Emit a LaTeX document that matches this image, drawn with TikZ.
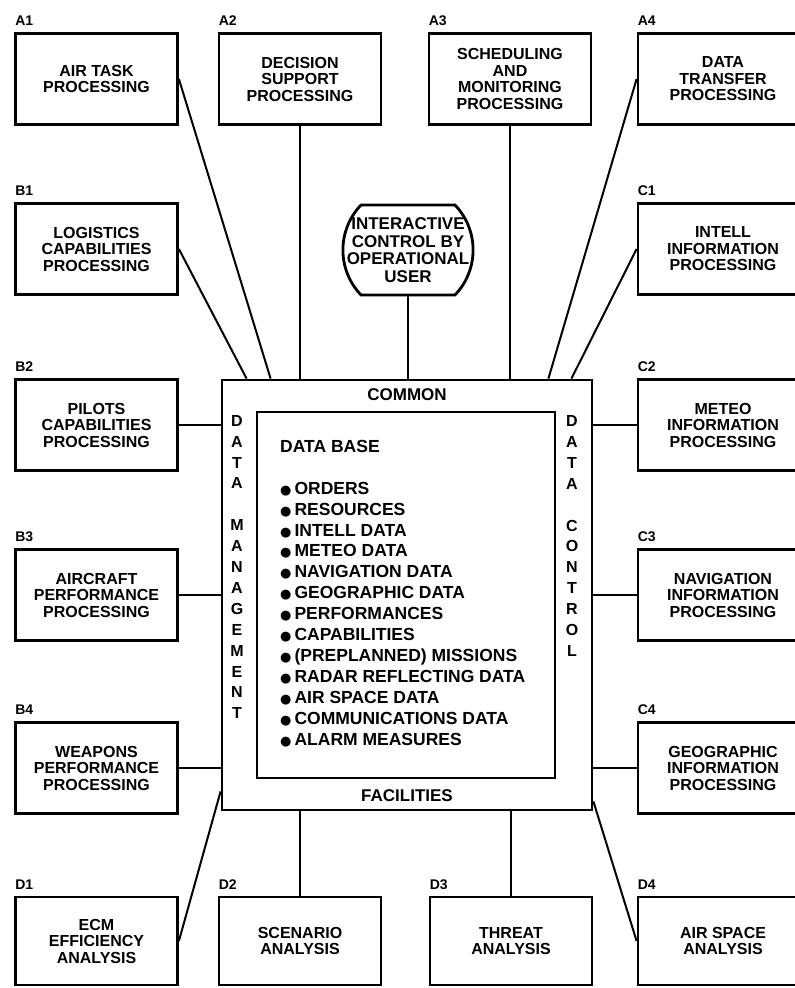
\documentclass[tikz,border=0pt]{standalone}
\usepackage{fontspec}
\setmainfont{Liberation Sans}
\newfontfamily\symfont{DejaVu Sans}
\usetikzlibrary{positioning,calc}

\newcommand{\bul}{{\symfont\fontsize{13}{13}\selectfont ●}\hspace{3pt}}

\begin{document}
\begin{tikzpicture}[
    x=1pt, y=1pt,
    proc/.style={rectangle, draw, line width=2.8pt, minimum width=162, minimum height=91, align=center, inner sep=2pt, font=\fontsize{16}{16.5}\selectfont\bfseries},
    wide/.style={minimum width=170},
    tag/.style={inner sep=0pt, font=\fontsize{14}{14}\selectfont\bfseries},
    dbframe/.style={rectangle, draw, line width=2.8pt},
    userline/.style={draw, line width=2.8pt},
    link/.style={line width=2pt},
    vtext/.style={align=center, inner sep=0pt, font=\fontsize{16}{20.9}\selectfont\bfseries},
    hdr/.style={inner sep=0pt, font=\fontsize{17}{17}\selectfont\bfseries}
]
\useasboundingbox (0,0) rectangle (795,-988);

% processing boxes
\node[proc] (a1) at (96.5,-79) {AIR TASK\\PROCESSING};
\node[proc] (a2) at (300,-79) {DECISION\\SUPPORT\\PROCESSING};
\node[proc] (a3) at (510,-79) {SCHEDULING\\AND\\MONITORING\\PROCESSING};
\node[proc, wide] (a4) at (723,-79) {DATA\\TRANSFER\\PROCESSING};
\node[proc] (b1) at (96.5,-249) {LOGISTICS\\CAPABILITIES\\PROCESSING};
\node[proc] (b2) at (96.5,-425) {PILOTS\\CAPABILITIES\\PROCESSING};
\node[proc] (b3) at (96.5,-595) {AIRCRAFT\\PERFORMANCE\\PROCESSING};
\node[proc] (b4) at (96.5,-768) {WEAPONS\\PERFORMANCE\\PROCESSING};
\node[proc, wide] (c1) at (723,-249) {INTELL\\INFORMATION\\PROCESSING};
\node[proc, wide] (c2) at (723,-425) {METEO\\INFORMATION\\PROCESSING};
\node[proc, wide] (c3) at (723,-595) {NAVIGATION\\INFORMATION\\PROCESSING};
\node[proc, wide] (c4) at (723,-768) {GEOGRAPHIC\\INFORMATION\\PROCESSING};
\node[proc, minimum height=88] (d1) at (96.5,-941) {ECM\\EFFICIENCY\\ANALYSIS};
\node[proc, minimum height=88] (d2) at (300,-941) {SCENARIO\\ANALYSIS};
\node[proc, minimum height=88] (d3) at (511,-941) {THREAT\\ANALYSIS};
\node[proc, wide, minimum height=88] (d4) at (723,-941) {AIR SPACE\\ANALYSIS};

% tags
\foreach \n/\t in {a1/A1, a2/A2, a3/A3, a4/A4, b1/B1, b2/B2, b3/B3, b4/B4,
                   c1/C1, c2/C2, c3/C3, c4/C4, d1/D1, d2/D2, d3/D3, d4/D4}
  \node[tag, above right=6pt and 1pt of \n.north west] (tag-\n) {\t};

% operational user
\node[align=center, minimum width=130, minimum height=90, inner sep=0pt, font=\fontsize{17}{17.5}\selectfont\bfseries] (user) at (408,-250) {INTERACTIVE\\CONTROL BY\\OPERATIONAL\\USER};
\draw[userline] ($(user.center)+(-47,45)$) -- ++(94,0) arc[start angle=43.8, end angle=-43.8, radius=65]
  -- ++(-94,0) arc[start angle=223.8, end angle=136.2, radius=65] -- cycle;

% common data base
\node[dbframe, minimum width=370, minimum height=430] (dbm) at (407,-595) {};
\node[dbframe, minimum width=298, minimum height=366] (db) at (406,-595) {};
\node[hdr, below=10pt of dbm.north] (common) {COMMON};
\node[hdr, above=10pt of dbm.south] (facil) {FACILITIES};
\node[vtext] (mgmt) at (237,-567) {D\\A\\T\\A\\[20.9pt]M\\A\\N\\A\\G\\E\\M\\E\\N\\T};
\node[vtext] (ctrl) at (572,-536) {D\\A\\T\\A\\[20.9pt]C\\O\\N\\T\\R\\O\\L};
\node[anchor=north west, align=left, inner sep=0pt, font=\fontsize{17.5}{20.9}\selectfont\bfseries] (dblist) at (280,-440)
  {DATA BASE\\[20.9pt]
   \bul ORDERS\\ \bul RESOURCES\\ \bul INTELL DATA\\ \bul METEO DATA\\
   \bul NAVIGATION DATA\\ \bul GEOGRAPHIC DATA\\ \bul PERFORMANCES\\
   \bul CAPABILITIES\\ \bul (PREPLANNED) MISSIONS\\ \bul RADAR REFLECTING DATA\\
   \bul AIR SPACE DATA\\ \bul COMMUNICATIONS DATA\\ \bul ALARM MEASURES};

% connections
\draw[link] (a1.east) -- ($(dbm.north west)+(50,0)$);
\draw[link] (b1.east) -- ($(dbm.north west)+(26,0)$);
\draw[link] (a2.south) -- (a2.south |- dbm.north);
\draw[link] (user.south) -- (user.south |- dbm.north);
\draw[link] (a3.south) -- (a3.south |- dbm.north);
\draw[link] (a4.west) -- ($(dbm.north east)+(-45,0)$);
\draw[link] (c1.west) -- ($(dbm.north east)+(-22,0)$);
\foreach \n in {b2,b3,b4}
  \draw[link] (\n.east) -- (\n.east -| dbm.west);
\foreach \n in {c2,c3,c4}
  \draw[link] (\n.west) -- (\n.west -| dbm.east);
\draw[link] (d1.east) -- ($(dbm.south west)+(0,20)$);
\draw[link] (d2.north) -- (d2.north |- dbm.south);
\draw[link] (d3.north) -- (d3.north |- dbm.south);
\draw[link] (d4.west) -- ($(dbm.south east)+(0,10)$);
\end{tikzpicture}
\end{document}
